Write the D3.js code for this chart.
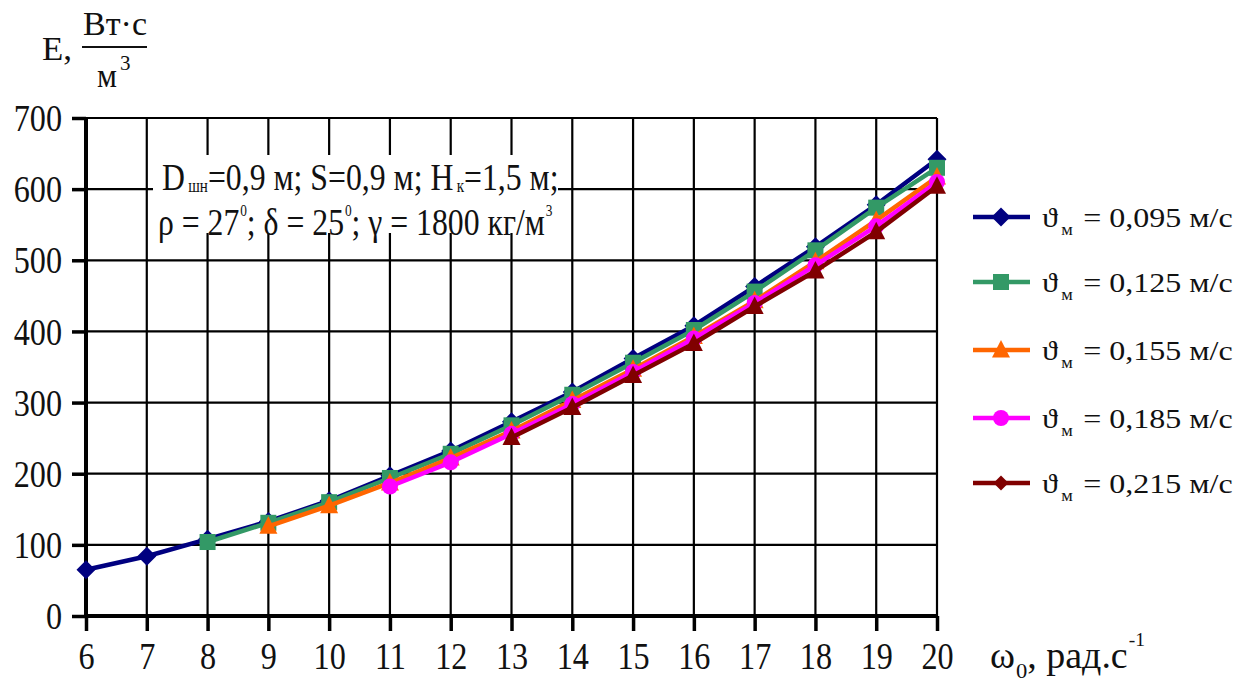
<!DOCTYPE html>
<html><head><meta charset="utf-8">
<script src="https://cdn.jsdelivr.net/npm/d3@7"></script>
<style>body{margin:0;background:#fff}svg{display:block}text{font-family:"Liberation Serif","Times New Roman",serif;fill:#111}</style>
</head><body><svg id="c" width="1240" height="682"></svg>
<script>
const xValues = [6,7,8,9,10,11,12,13,14,15,16,17,18,19,20];
const yTicks = [0,100,200,300,400,500,600,700];
const seriesNames = ["0,095","0,125","0,155","0,185","0,215"];
const s095 = [65,84,108,133,162,197,232,273,315,362,408,463,519,578,642];
const s125 = [null,null,104,131,160,194,228,268,311,356,402,456,514,574,630];
const s155 = [null,null,null,126,155,187,222,260,303,347,393,443,498,556,617];
const s185 = [null,null,null,null,null,182,216,256,298,343,390,440,493,548,610];
const s215 = [null,null,null,null,null,null,null,251,293,338,383,435,485,540,604];
const seriesValues = [s095,s125,s155,s185,s215];
const colors = ["#000080","#339966","#ff6600","#ff00ff","#800000"];
const plotMarkers = ["diamond","square","triangle","circle","triangle"];
const legendMarkers = ["diamond","square","triangle","circle","smalldiamond"];

const FONT = "'Liberation Serif','Times New Roman',serif";
const svg = d3.select("#c");
const L=86,R=937,T=118,B=616;
const x = d3.scaleLinear().domain([6,20]).range([L,R]);
const y = d3.scaleLinear().domain([0,700]).range([B,T]);

function stext(px, py, size, opts={}){
  const g = svg.append("g").attr("transform",`translate(${px},${py})`);
  const t = g.append("text").attr("x",0).attr("y",0)
    .style("font-family",FONT).style("font-size",size+"px")
    .attr("text-anchor",opts.anchor||"start");
  t._g = g;
  return t;
}
function fitWidth(t, width){
  const w = t.node().getComputedTextLength();
  const tr = t._g.attr("transform");
  t._g.attr("transform", tr + ` scale(${width/w},1)`);
}

// grid
const g = svg.append("g");
g.selectAll(".vg").data(xValues).join("line")
 .attr("x1",d=>x(d)).attr("x2",d=>x(d)).attr("y1",T).attr("y2",B)
 .attr("stroke","#000").attr("stroke-width",2.2);
g.selectAll(".hg").data(yTicks).join("line")
 .attr("x1",L).attr("x2",R).attr("y1",d=>y(d)).attr("y2",d=>y(d))
 .attr("stroke","#000").attr("stroke-width",2.2);

// annotation background
svg.append("rect").attr("x",153).attr("y",155).attr("width",405).attr("height",78).attr("fill","#fff");

// axes
const TSX = 0.87;
const yAxis = d3.axisLeft(y).tickValues(yTicks).tickSize(14).tickFormat(d=>d);
const ya = svg.append("g").attr("transform",`translate(${L},0)`).call(yAxis);
ya.select(".domain").attr("stroke","#000").attr("stroke-width",4).attr("d",`M0,${T-1}V${B}`);
ya.selectAll(".tick line").attr("stroke","#000").attr("stroke-width",3.5);
ya.selectAll(".tick text").attr("x",-24/TSX).attr("dy","0.34em")
  .attr("transform",`scale(${TSX},1)`)
  .style("font-size","37px").style("font-family",FONT).attr("fill","#111");

const xAxis = d3.axisBottom(x).tickValues(xValues).tickSize(15).tickFormat(d=>d);
const xa = svg.append("g").attr("transform",`translate(0,${B})`).call(xAxis);
xa.select(".domain").attr("stroke","#000").attr("stroke-width",4).attr("d",`M${L-2},0H${R}`);
xa.selectAll(".tick line").attr("stroke","#000").attr("stroke-width",3.5);
xa.selectAll(".tick text").attr("y",53).attr("dy",0)
  .attr("transform",`scale(${TSX},1)`)
  .style("font-size","37px").style("font-family",FONT).attr("fill","#111");

// markers
function drawMarker(sel, type, color){
  if(type==="diamond"){
    sel.append("path").attr("d","M0,-9.5L9.5,0L0,9.5L-9.5,0Z").attr("fill",color);
  } else if(type==="smalldiamond"){
    sel.append("path").attr("d","M0,-7.5L7.5,0L0,7.5L-7.5,0Z").attr("fill",color);
  } else if(type==="square"){
    sel.append("rect").attr("x",-8).attr("y",-8).attr("width",16).attr("height",16).attr("fill",color);
  } else if(type==="triangle"){
    sel.append("path").attr("d","M0,-10L9,7.5L-9,7.5Z").attr("fill",color);
  } else if(type==="circle"){
    sel.append("circle").attr("r",8).attr("fill",color);
  }
}

const line = d3.line().defined(d=>d.v!=null).x(d=>x(d.x)).y(d=>y(d.v));
seriesValues.forEach((vals,i)=>{
  const pts = xValues.map((xx,j)=>({x:xx,v:vals[j]}));
  svg.append("path").datum(pts).attr("d",line).attr("fill","none")
    .attr("stroke",colors[i]).attr("stroke-width",4.5).attr("stroke-linejoin","round");
  pts.filter(p=>p.v!=null).forEach(p=>{
    const m = svg.append("g").attr("transform",`translate(${x(p.x)},${y(p.v)})`);
    drawMarker(m, plotMarkers[i], colors[i]);
  });
});

// legend
const legendY = [217,282,350,418,483];
seriesNames.forEach((n,i)=>{
  const gy = legendY[i];
  svg.append("line").attr("x1",973).attr("x2",1030).attr("y1",gy).attr("y2",gy)
    .attr("stroke",colors[i]).attr("stroke-width",4.5);
  const m = svg.append("g").attr("transform",`translate(1001,${gy})`);
  drawMarker(m, legendMarkers[i], colors[i]);
  const t = stext(1042, gy+10, 28);
  t.append("tspan").text("ϑ");
  t.append("tspan").attr("dy",8).attr("dx",3).style("font-size","16px").text("м");
  t.append("tspan").attr("dy",-8).attr("dx",2).text(" = "+n+" м/с");
  fitWidth(t, 185);
});

// annotation text
const a1 = stext(162, 190, 38);
a1.append("tspan").text("D");
a1.append("tspan").attr("dy",2).attr("dx",4).style("font-size","18px").text("шн");
a1.append("tspan").attr("dy",-2).text("=0,9 м; S=0,9 м; H");
a1.append("tspan").attr("dy",2).attr("dx",4).style("font-size","18px").text("к");
a1.append("tspan").attr("dy",-2).text("=1,5 м;");
fitWidth(a1, 390);
const a2 = stext(158, 235, 38);
a2.append("tspan").text("ρ = 27");
a2.append("tspan").attr("dy",-19).attr("dx",1).style("font-size","16px").text("0");
a2.append("tspan").attr("dy",19).text("; δ = 25");
a2.append("tspan").attr("dy",-19).attr("dx",1).style("font-size","16px").text("0");
a2.append("tspan").attr("dy",19).text("; γ = 1800 кг/м");
a2.append("tspan").attr("dy",-19).attr("dx",1).style("font-size","16px").text("3");
fitWidth(a2, 392);

// y title
const e = stext(42, 60, 33); e.text("E,"); fitWidth(e, 30);
const bt = stext(115, 35, 33, {anchor:"middle"}); bt.text("Вт·с"); fitWidth(bt, 64);
svg.append("line").attr("x1",82).attr("x2",147).attr("y1",47).attr("y2",47).attr("stroke","#111").attr("stroke-width",2);
const ym = stext(97, 87, 33); ym.text("м"); fitWidth(ym, 20);
const y3 = stext(120, 70, 21); y3.text("3");

// x title
const xt = stext(990, 668, 37);
xt.append("tspan").text("ω");
xt.append("tspan").attr("dy",10).attr("dx",1).style("font-size","22px").text("0");
xt.append("tspan").attr("dy",-10).text(", рад.с");
xt.append("tspan").attr("dy",-22).attr("dx",1).style("font-size","19px").text("-1");
fitWidth(xt, 153);
</script></body></html>
